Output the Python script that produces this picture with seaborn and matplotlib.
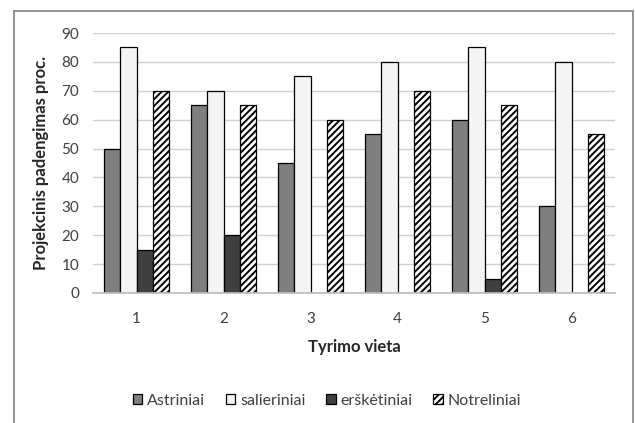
import matplotlib
matplotlib.use("Agg")
import matplotlib.pyplot as plt
from matplotlib.lines import Line2D
from matplotlib.patches import Patch
import seaborn as sns
import pandas as pd

# Survey sites and projective cover (%) of each plant group
sites = ["1", "2", "3", "4", "5", "6"]
astriniai = [50, 65, 45, 55, 60, 30]
salieriniai = [85, 70, 75, 80, 85, 80]
ersketiniai = [15, 20, 0, 0, 5, 0]
notreliniai = [70, 65, 60, 70, 65, 55]
groups = ["Astriniai", "salieriniai", "erškėtiniai", "Notreliniai"]

df = pd.DataFrame({
    "Tyrimo vieta": sites * 4,
    "value": astriniai + salieriniai + ersketiniai + notreliniai,
    "grupė": [g for g in groups for _ in sites],
})

sns.set_theme(style="white")
plt.rcParams["font.family"] = ["Lato", "DejaVu Sans"]
plt.rcParams["hatch.linewidth"] = 1.4

fig = plt.figure(figsize=(6.35, 4.23), dpi=100)
ax = fig.add_axes([93 / 635, 1 - 293 / 423, 522 / 635, 260 / 423])

fills = ["#7f7f7f", "#f4f4f4", "#3f3f3f", "#ffffff"]
hatches = [None, None, None, "/////"]

sns.barplot(data=df, x="Tyrimo vieta", y="value", hue="grupė",
            palette=fills, width=0.75, gap=0, ax=ax,
            edgecolor="black", linewidth=0.9, saturation=1, legend=False)

for cont, h in zip(ax.containers, hatches):
    for bar in cont:
        bar.set_edgecolor("black")
        if h:
            bar.set_hatch(h)

ax.set_ylim(0, 90)
ax.set_yticks(range(0, 91, 10))
ax.yaxis.grid(True, color="#d0d0d0", linewidth=1)
ax.set_axisbelow(True)
for side in ["left", "right", "top"]:
    ax.spines[side].set_visible(False)
ax.spines["bottom"].set_color("#bfbfbf")
ax.tick_params(axis="y", length=0, labelsize=11, colors="#404040", pad=10)
ax.tick_params(axis="x", length=0, labelsize=11, colors="#404040", pad=14)

ax.set_xlabel("Tyrimo vieta", fontsize=12, fontweight="bold", color="#262626", labelpad=9)
ax.set_ylabel("Projekcinis padengimas proc.", fontsize=12, fontweight="bold", color="#262626", labelpad=9)

# Legend along the bottom
handles = [Patch(facecolor=f, edgecolor="black", linewidth=0.9, hatch=h)
           for f, h in zip(fills, hatches)]
fig.legend(handles, groups, loc="center", bbox_to_anchor=(327 / 635, 1 - 401 / 423),
           ncol=4, frameon=False, fontsize=11.5, handlelength=0.6, handleheight=0.6,
           handletextpad=0.3, columnspacing=1.3, labelcolor="#404040")

# Chart frame
fx0, fx1, fy1 = 13.5 / 635, 632.5 / 635, 1 - 11.5 / 423
for xs, ys in [([fx0, fx0], [0, fy1]), ([fx0, fx1], [fy1, fy1]), ([fx1, fx1], [fy1, 0])]:
    fig.add_artist(Line2D(xs, ys, transform=fig.transFigure, color="#8c8c8c", linewidth=1.3))

fig.savefig("out.png", dpi=100)
